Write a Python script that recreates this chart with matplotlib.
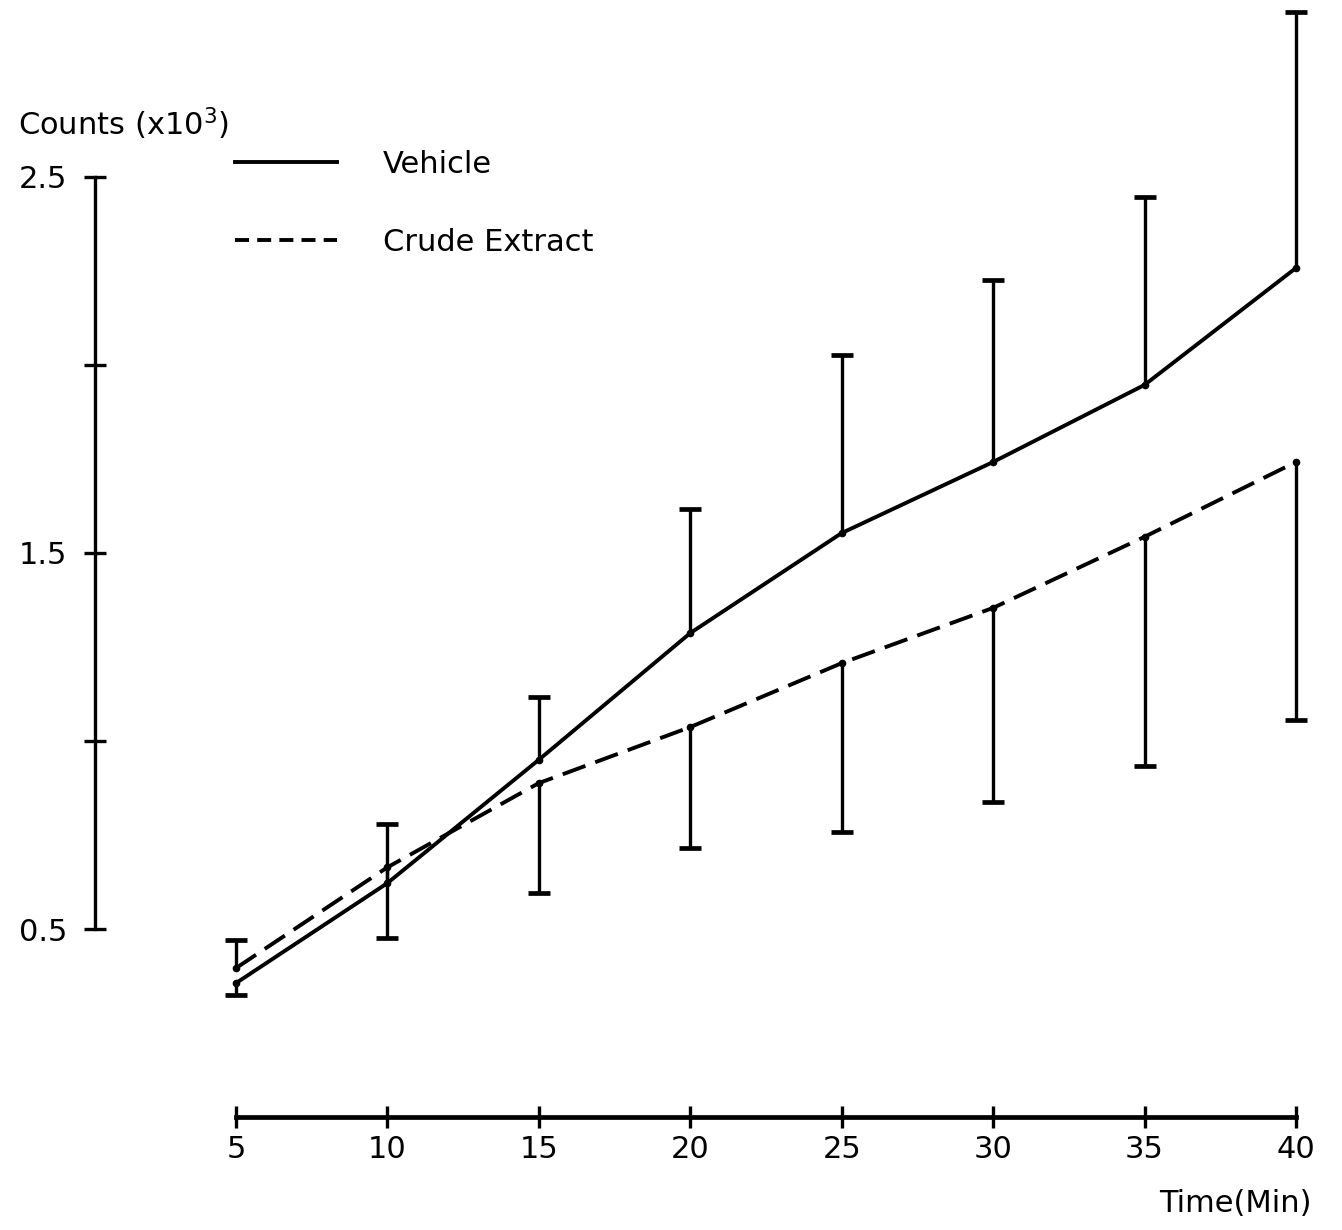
import matplotlib
matplotlib.use("Agg")
import matplotlib.pyplot as plt
import numpy as np
from matplotlib.lines import Line2D

# time points (min)
times = [5, 10, 15, 20, 25, 30, 35, 40]
x_ticks = [5, 10, 15, 20, 25, 30, 35, 40]
y_ticks = [0.5, 1.0, 1.5, 2.0, 2.5]
y_tick_labels = ["0.5", "", "1.5", "", "2.5"]

# counts (x10^3)
vehicle = [0.356, 0.622, 0.95, 1.287, 1.553, 1.742, 1.947, 2.258]
crude = [0.396, 0.664, 0.888, 1.037, 1.207, 1.354, 1.543, 1.742]

# end of each error bar (vehicle bars go up, crude bars go down, except at 5 min)
vehicle_bar_end = [0.324, 0.779, 1.117, 1.617, 2.027, 2.226, 2.447, 2.939]
crude_bar_end = [0.471, 0.476, 0.596, 0.715, 0.758, 0.838, 0.934, 1.056]

FS = 22

fig = plt.figure(figsize=(13.42, 12.30), dpi=100)
ax = fig.add_axes([0, 0, 1, 1])
ax.set_xlim(-2.79, 41.52)
ax.set_ylim(-0.3005, 2.9707)

ax.plot(times, vehicle, color="black", lw=2.8, solid_capstyle="butt")
ax.plot(times, crude, color="black", lw=2.8, dashes=(6.2, 2.7))
ax.plot(times, vehicle, "o", color="black", ms=4.5)
ax.plot(times, crude, "o", color="black", ms=4.5)

# error bars: stem from the mean to the end, one cap at the end
for values, ends in ((vehicle, vehicle_bar_end), (crude, crude_bar_end)):
    ax.vlines(times, values, ends, color="black", lw=2.4)
    ax.plot(times, ends, "_", color="black", ms=16, mew=3.4)

# hand drawn style axes
for side in ("top", "right"):
    ax.spines[side].set_visible(False)
ax.spines["left"].set_position(("data", 0.345))
ax.spines["left"].set_bounds(0.5, 2.5)
ax.spines["left"].set_linewidth(2.4)
ax.spines["bottom"].set_position(("data", 0.0))
ax.spines["bottom"].set_bounds(5, 40)
ax.spines["bottom"].set_linewidth(3.4)

ax.set_yticks(y_ticks)
ax.set_yticklabels(y_tick_labels)
ax.set_xticks(x_ticks)
ax.set_xticklabels([str(t) for t in x_ticks])
ax.tick_params(axis="y", direction="inout", length=16, width=2.4, pad=12, labelsize=FS)
ax.tick_params(axis="x", direction="inout", length=16, width=2.4, pad=5, labelsize=FS)

fig.text(18 / 1342, 1 - 124 / 1230, "Counts (x10$^3$)", fontsize=FS, va="center", ha="left")
fig.text(1312 / 1342, 1 - 1204 / 1230, "Time(Min)", fontsize=FS, va="center", ha="right")

handles = [
    Line2D([], [], color="black", lw=2.8),
    Line2D([], [], color="black", lw=2.8, dashes=(3.6, 2.1)),
]
ax.legend(handles, ["Vehicle", "Crude Extract"], loc="upper left",
          bbox_to_anchor=(235 / 1342, 1 - 150 / 1230), bbox_transform=fig.transFigure,
          frameon=False, fontsize=FS, handlelength=3.35, handletextpad=1.5,
          labelspacing=1.6, borderpad=0, borderaxespad=0)

fig.savefig("out.png", dpi=100)
